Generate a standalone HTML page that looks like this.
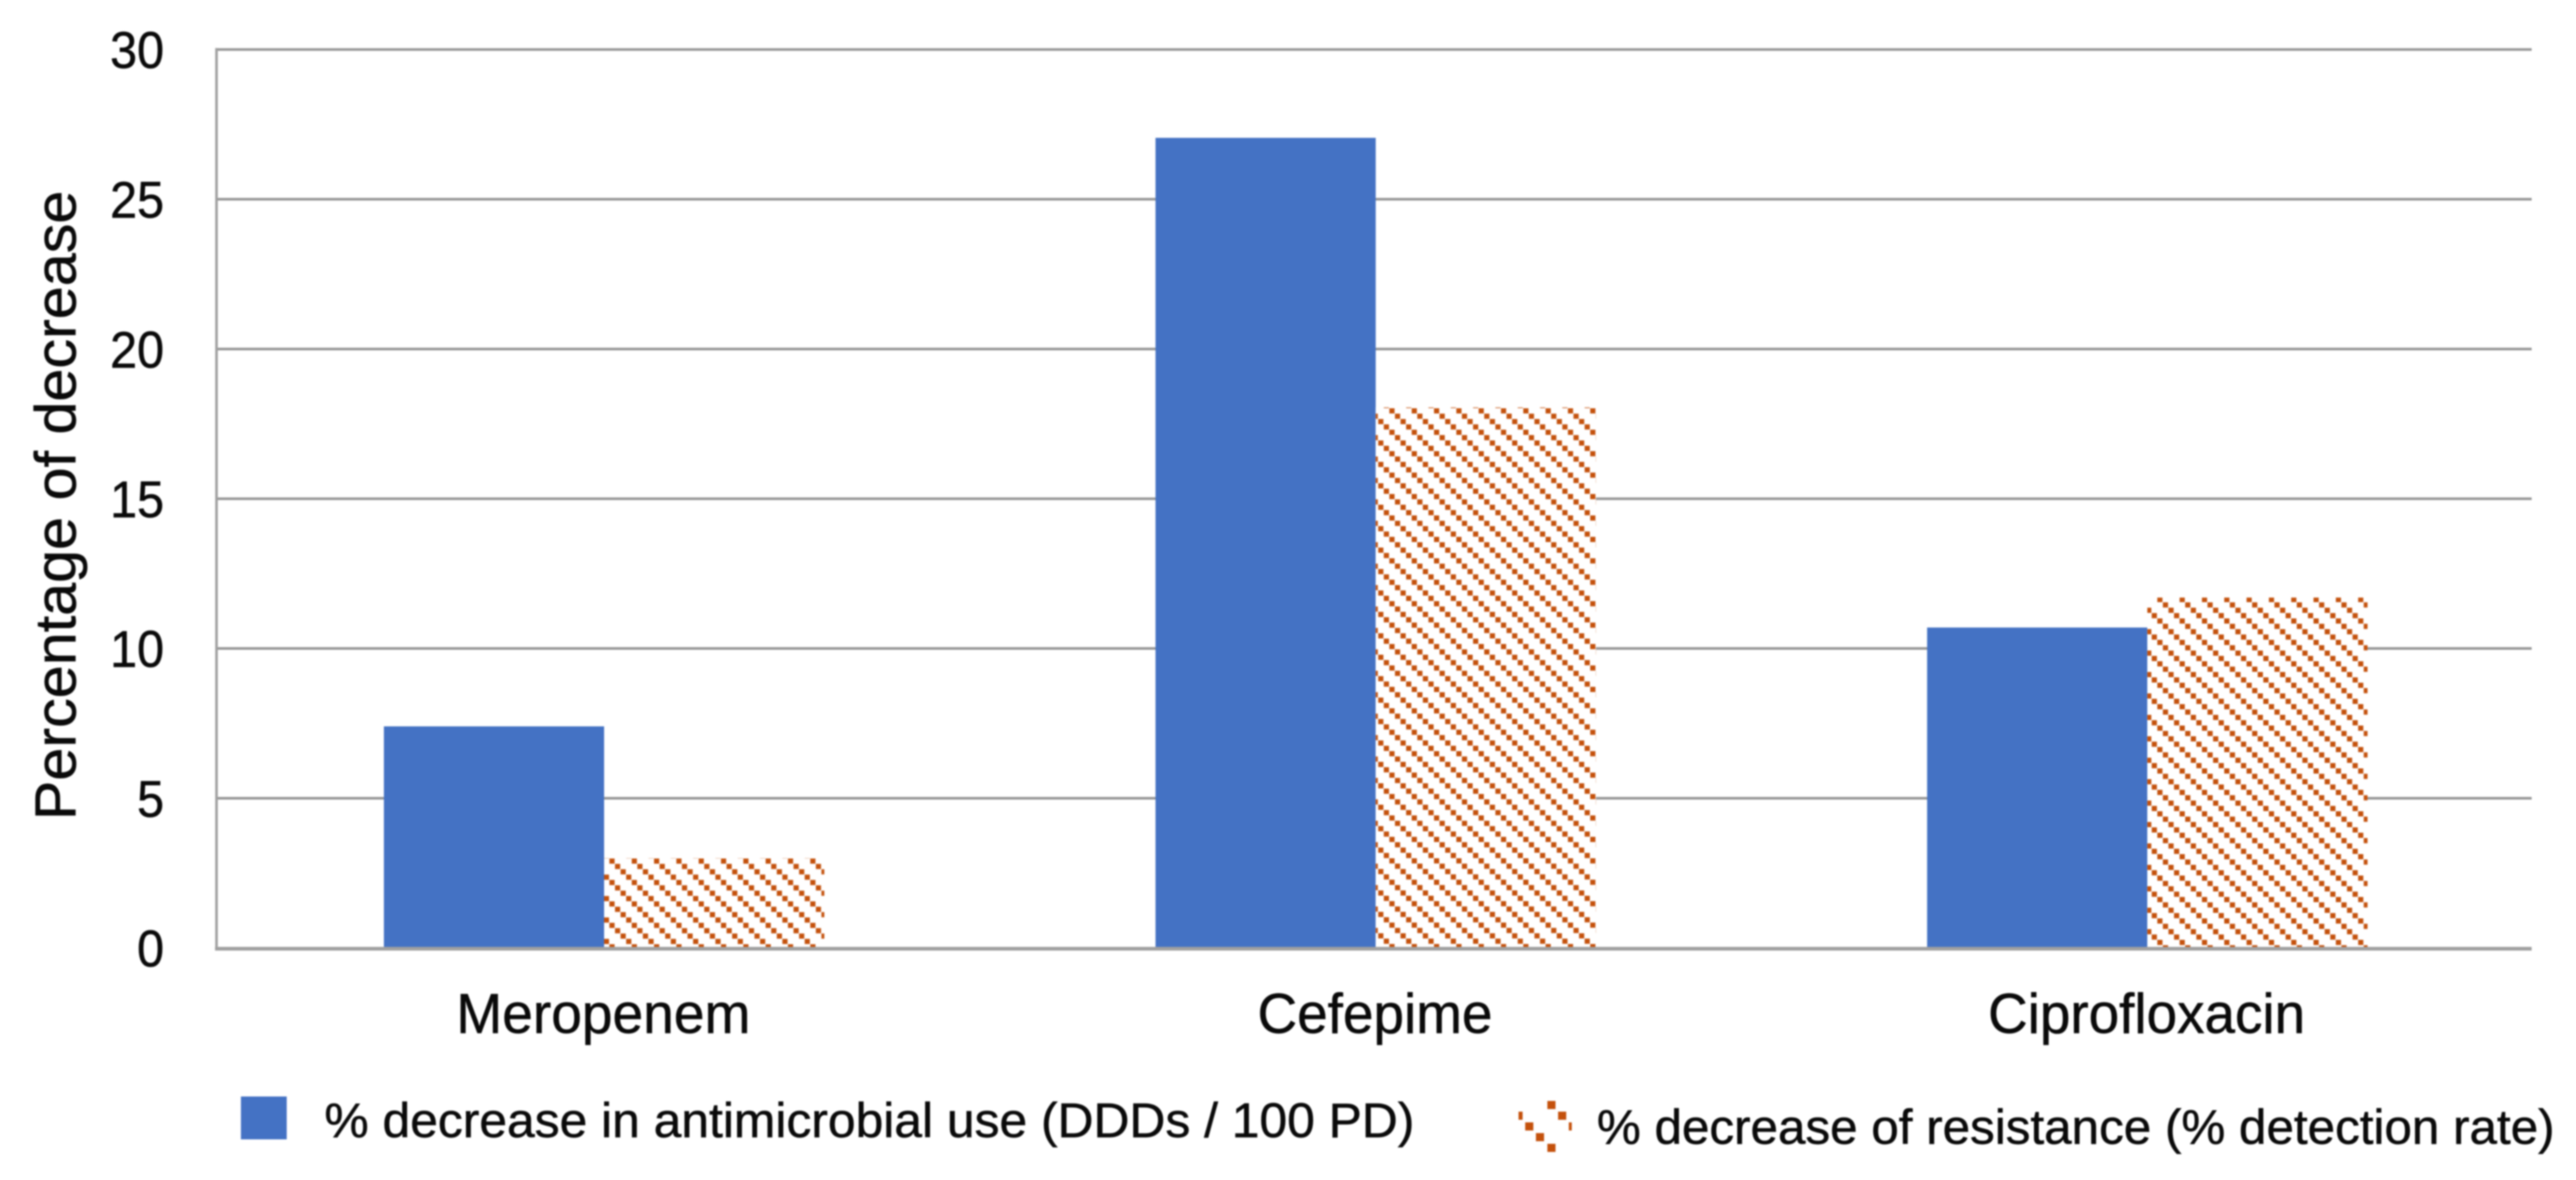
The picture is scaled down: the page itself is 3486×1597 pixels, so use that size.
<!DOCTYPE html>
<html lang="en">
<head>
<meta charset="utf-8">
<title>Percentage of decrease chart</title>
<style>
html,body{margin:0;padding:0;background:#fff;width:3486px;height:1597px;overflow:hidden}
svg{display:block;filter:blur(1px)}
text{font-family:"Liberation Sans",sans-serif;fill:#0a0a0a;stroke:#0a0a0a;stroke-width:0.7px}
</style>
</head>
<body>
<svg id="chart" xmlns="http://www.w3.org/2000/svg" width="3486" height="1597" viewBox="0 0 3486 1597">
  <defs id="defs">
    <pattern id="legend-hatch" patternUnits="userSpaceOnUse" x="2092" y="1488" width="59" height="58">
      <rect x="2" y="2" width="11" height="11" fill="#c4510c"/>
      <rect x="16.5" y="16.5" width="11" height="11" fill="#c4510c"/>
      <rect x="31" y="31" width="11" height="11" fill="#c4510c"/>
      <rect x="45.5" y="45.5" width="11" height="11" fill="#c4510c"/>
    </pattern>
  </defs>
  <rect x="0" y="0" width="3486" height="1597" fill="#ffffff"/>
  <g id="grid"></g>
  <g id="bars"></g>
  <g id="axes"></g>
  <text transform="translate(102,1110) rotate(-90)" font-size="78" textLength="852" lengthAdjust="spacingAndGlyphs">Percentage of decrease</text>
  <g>
    <g>
      <rect x="326" y="1484" width="62" height="58" fill="#4472c4"/>
      <text x="439" y="1539" font-size="66" textLength="1475" lengthAdjust="spacingAndGlyphs">% decrease in antimicrobial use (DDDs / 100 PD)</text>
    </g>
    <g>
      <rect x="2055" y="1488" width="72" height="72" fill="url(#legend-hatch)"/>
      <text x="2161" y="1548" font-size="66" textLength="1296" lengthAdjust="spacingAndGlyphs">% decrease of resistance (% detection rate)</text>
    </g>
  </g>
</svg>
<script>
const categories = ["Meropenem", "Cefepime", "Ciprofloxacin"];
const useValues = [7.4, 27.05, 10.7];
const resistanceValues = [3.0, 18.05, 11.7];
const tickValues = [0, 5, 10, 15, 20, 25, 30];
const tickLabels = ["0", "5", "10", "15", "20", "25", "30"];

const NS = "http://www.w3.org/2000/svg";
const plot = { left: 293, right: 3426, top: 67, bottom: 1283, max: 30 };
const barWidth = 298;
const hatchPhaseX = [10.7, 22, 17];
const hatchPhaseY = [4, 4.7, 2.7];
const labelWidths = [398, 318, 429];

function yScale(v) {
  return plot.bottom - (v / plot.max) * (plot.bottom - plot.top);
}
function xCenter(i) {
  return plot.left + 524.5 + i * 1044.2;
}
function make(tag, attrs) {
  const el = document.createElementNS(NS, tag);
  for (const k in attrs) el.setAttribute(k, attrs[k]);
  return el;
}

const grid = document.getElementById("grid");
const bars = document.getElementById("bars");
const axes = document.getElementById("axes");
const defs = document.getElementById("defs");

tickValues.forEach(function (v, i) {
  const y = yScale(v);
  if (v !== 0) {
    const line = make("line", { x1: plot.left, x2: plot.right, y1: y, y2: y, stroke: "#959595", "stroke-width": 3.5 });
    
    
    grid.appendChild(line);
  }
  const label = make("text", { x: 222, y: y + 25, "font-size": 70, "text-anchor": "end", textLength: tickLabels[i].length * 36.5, lengthAdjust: "spacingAndGlyphs" });
  label.textContent = tickLabels[i];
  
  
  axes.appendChild(label);
});

const yAxis = make("line", { x1: plot.left, x2: plot.left, y1: plot.top - 2, y2: plot.bottom, stroke: "#a0a0a0", "stroke-width": 3.5 });


axes.appendChild(yAxis);

categories.forEach(function (name, i) {
  const cx = xCenter(i);

  const useTop = yScale(useValues[i]);
  const useBar = make("rect", { x: cx - barWidth, y: useTop, width: barWidth, height: plot.bottom - useTop, fill: "#4472c4" });
  
  
  bars.appendChild(useBar);

  const resTop = yScale(resistanceValues[i]);
  const pat = make("pattern", { id: "hatch-" + i, patternUnits: "userSpaceOnUse", x: cx + hatchPhaseX[i] - 3.5, y: resTop + hatchPhaseY[i] - 3.5, width: 30.2, height: 29 });
  [0, 1, 2, 3].forEach(function (k) {
    pat.appendChild(make("rect", { x: k * 7.55, y: k * 7.25, width: 7, height: 7, fill: "#c4510c" }));
  });
  defs.appendChild(pat);

  const resBack = make("rect", { x: cx, y: resTop, width: barWidth, height: plot.bottom - resTop, fill: "#ffffff" });
  
  
  bars.appendChild(resBack);

  const resBar = make("rect", { x: cx, y: resTop, width: barWidth, height: plot.bottom - resTop, fill: "url(#hatch-" + i + ")" });
  
  
  bars.appendChild(resBar);

  const label = make("text", { x: cx - 1, y: 1398, "font-size": 76, "text-anchor": "middle", textLength: labelWidths[i], lengthAdjust: "spacingAndGlyphs" });
  label.textContent = name;
  
  
  axes.appendChild(label);
});

const xAxis = make("line", { x1: plot.left - 2, x2: plot.right, y1: plot.bottom + 1, y2: plot.bottom + 1, stroke: "#a0a0a0", "stroke-width": 5 });


axes.appendChild(xAxis);
</script>
</body>
</html>
